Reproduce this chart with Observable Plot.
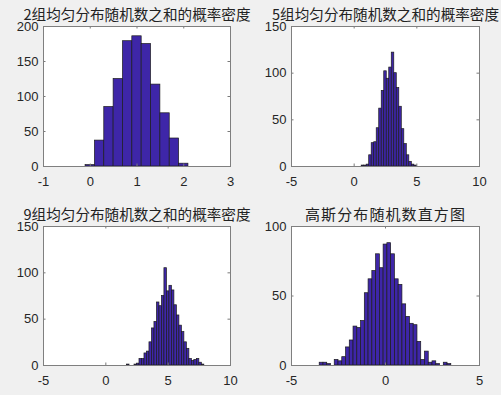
<!DOCTYPE html>
<html>
<head>
<meta charset="utf-8">
<script src="https://cdn.jsdelivr.net/npm/d3@7"></script>
<script src="https://cdn.jsdelivr.net/npm/@observablehq/plot@0.6"></script>
<style>
html, body { margin: 0; padding: 0; background: #f0f0f0; }
#fig { position: relative; width: 501px; height: 395px; background: #f0f0f0; overflow: hidden; }
#fig svg { position: absolute; overflow: visible; }
</style>
</head>
<body>
<div id="fig"></div>
<script>
// ---- data ----
const titles = [
  "2组均匀分布随机数之和的概率密度",
  "5组均匀分布随机数之和的概率密度",
  "9组均匀分布随机数之和的概率密度",
  "高斯分布随机数直方图"
];
const binWidth = 0.2;

// panel 1: sum of 2 uniforms
const p1FirstEdge = -0.1;
const p1Counts = [2, 37, 85, 125, 179, 186, 175, 117, 76, 40, 4];
const p1XTicks = [-1, 0, 1, 2, 3];
const p1YTicks = [0, 50, 100, 150, 200];

// panel 2: sum of 5 uniforms
const p2FirstEdge = 0.0;
const p2Counts = [0, 0, 0, 1, 1, 2, 12, 25, 26, 41, 62, 81, 102, 94, 106, 122, 100, 84, 64, 40, 24, 12, 5, 2, 1, 0, 0, 0, 0, 0, 0];
const p2XTicks = [-5, 0, 5, 10];
const p2YTicks = [0, 50, 100, 150];

// panel 3: sum of 9 uniforms
const p3FirstEdge = 1.5;
const p3Counts = [0, 1, 0, 0, 1, 2, 7, 7, 13, 15, 25, 40, 47, 68, 64, 75, 105, 80, 86, 81, 65, 54, 43, 36, 25, 18, 7, 5, 6, 7, 3, 1];
const p3XTicks = [-5, 0, 5, 10];
const p3YTicks = [0, 50, 100, 150];

// panel 4: gaussian
const p4FirstEdge = -3.5;
const p4Counts = [2, 2, 1, 0, 4, 3, 6, 13, 18, 28, 27, 32, 52, 62, 68, 80, 70, 87, 88, 80, 62, 58, 44, 35, 30, 29, 17, 4, 10, 2, 3, 1, 0, 2, 1];
const p4XTicks = [-5, 0, 5];
const p4YTicks = [0, 50, 100];

// ---- drawing ----
const fig = document.getElementById("fig");

function panel(o) {
  const bins = o.counts.map((c, i) => ({
    x1: o.firstEdge + i * binWidth,
    x2: o.firstEdge + (i + 1) * binWidth,
    count: c
  }));
  const fw = o.width - o.ml - o.mr;
  const fh = o.height - o.mt - o.mb;
  const tick = 2.5;
  const svg = Plot.plot({
    width: o.width,
    height: o.height,
    marginLeft: o.ml, marginRight: o.mr, marginTop: o.mt, marginBottom: o.mb,
    style: {
      background: "transparent",
      fontFamily: "'Liberation Sans', Arial, sans-serif",
      fontSize: "13px",
      color: "#262626",
      overflow: "visible"
    },
    x: {domain: o.xDomain, label: null},
    y: {domain: o.yDomain, label: null},
    marks: [
      Plot.frame({fill: "white", stroke: null}),
      Plot.rectY(bins, {x1: "x1", x2: "x2", y: "count", inset: 0, fill: "#3e26a8", stroke: "#1c1c1c", strokeWidth: 0.7}),
      Plot.tickX(o.xTicks, {x: d => d, insetTop: fh - tick, stroke: "#7a7a7a"}),
      Plot.tickX(o.xTicks, {x: d => d, insetBottom: fh - tick, stroke: "#7a7a7a"}),
      Plot.tickY(o.yTicks, {y: d => d, insetRight: fw - tick, stroke: "#7a7a7a"}),
      Plot.tickY(o.yTicks, {y: d => d, insetLeft: fw - tick, stroke: "#7a7a7a"}),
      Plot.frame({stroke: "#7f7f7f"}),
      Plot.axisX(o.xTicks, {tickSize: 0, tickPadding: 10, tickFormat: d => String(d), fill: "#262626"}),
      Plot.axisY(o.yTicks, {tickSize: 0, tickPadding: 5, tickFormat: d => String(d), fill: "#262626"}),
      Plot.text([o.title], {
        text: d => d,
        frameAnchor: "top",
        lineAnchor: "bottom",
        dy: -6.3,
        fontSize: o.titleSize,
        fontFamily: "'Noto Sans CJK SC', sans-serif",
        fill: "#222"
      })
    ]
  });
  svg.style.left = o.left + "px";
  svg.style.top = o.top + "px";
  if (o.spacing) {
    svg.querySelectorAll("text").forEach(t => {
      if (t.textContent === o.title) t.style.letterSpacing = o.spacing + "px";
    });
  }
  fig.appendChild(svg);
}

panel({counts: p1Counts, firstEdge: p1FirstEdge, xDomain: [-1, 3], yDomain: [0, 200], xTicks: p1XTicks, yTicks: p1YTicks,
  title: titles[0], titleSize: 14.6, left: 0, top: 0, width: 250, height: 195, ml: 43, mr: 20, mt: 26, mb: 29});
panel({counts: p2Counts, firstEdge: p2FirstEdge, xDomain: [-5, 10], yDomain: [0, 150], xTicks: p2XTicks, yTicks: p2YTicks,
  title: titles[1], titleSize: 14.6, left: 250, top: 0, width: 251, height: 195, ml: 41, mr: 22, mt: 26, mb: 29});
panel({counts: p3Counts, firstEdge: p3FirstEdge, xDomain: [-5, 10], yDomain: [0, 150], xTicks: p3XTicks, yTicks: p3YTicks,
  title: titles[2], titleSize: 14.6, left: 0, top: 195, width: 250, height: 200, ml: 43, mr: 20, mt: 31, mb: 30});
panel({counts: p4Counts, firstEdge: p4FirstEdge, xDomain: [-5, 5], yDomain: [0, 100], xTicks: p4XTicks, yTicks: p4YTicks,
  title: titles[3], titleSize: 15, spacing: 1.1, left: 250, top: 195, width: 251, height: 200, ml: 41, mr: 22, mt: 31, mb: 30});
</script>
</body>
</html>
